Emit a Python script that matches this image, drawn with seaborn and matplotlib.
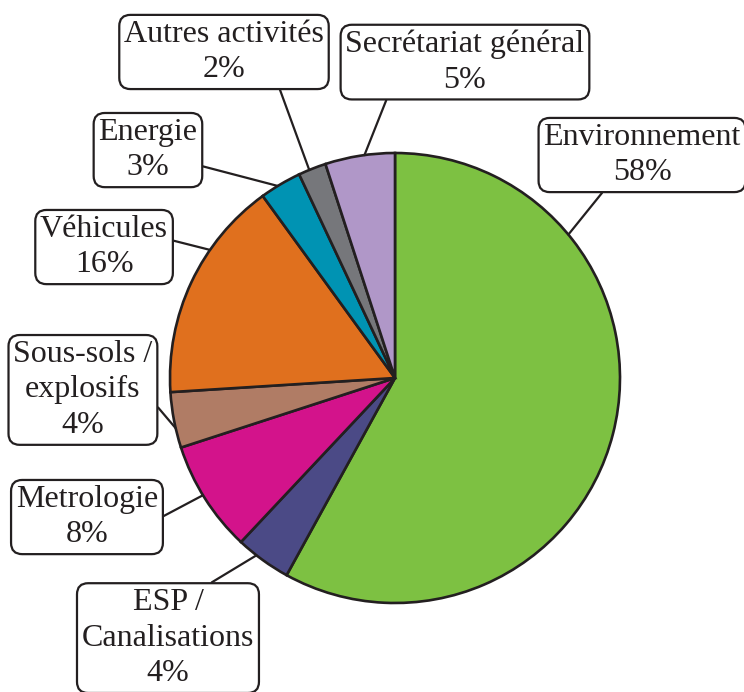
import matplotlib
matplotlib.use("Agg")
import matplotlib.pyplot as plt
import seaborn as sns
import numpy as np

labels = ['Environnement', 'ESP /\nCanalisations', 'Metrologie', 'Sous-sols /\nexplosifs',
          'Véhicules', 'Energie', 'Autres activités', 'Secrétariat général']
values = [58, 4, 8, 4, 16, 3, 2, 5]
colors = ['#7dc142', '#4b4a86', '#d3138b', '#b07c65', '#e0701e', '#0093b3', '#76777b', '#b097c8']

# layout: label box centres, where the leader line touches the pie (degrees),
# and where it leaves the box (fraction of the box)
box_pos = [(1.098, 0.991), (-1.009, -1.156), (-1.369, -0.618), (-1.387, -0.053),
           (-1.293, 0.582), (-1.098, 1.013), (-0.76, 1.449), (0.311, 1.404)]
anchor_deg = [39.6, 232, 211.4, 192.9, 145.3, 121.4, 112.4, 97.8]
rel_pos = [(0.32, 0), (0.7, 1), (1, 0.47), (1, 0.39), (1, 0.62), (1, 0.27), (0.77, 0), (0.18, 0)]

sns.set_theme(style="white")
plt.rcParams['font.family'] = ['Liberation Serif', 'DejaVu Serif']

fig = plt.figure(figsize=(7.44, 6.92), dpi=100)
ax = fig.add_axes([0, 0, 1, 1])

ax.pie(values, colors=colors, startangle=90, counterclock=False, radius=1,
       wedgeprops=dict(edgecolor='#231f20', linewidth=1.9))

for lab, v, (bx, by), ang, rp in zip(labels, values, box_pos, anchor_deg, rel_pos):
    t = np.deg2rad(ang)
    ax.annotate(f"{lab}\n{v}%", xy=(np.cos(t), np.sin(t)), xytext=(bx, by),
                ha='center', va='center', fontsize=23, color='#231f20', linespacing=1.3,
                bbox=dict(boxstyle='round,pad=0.15,rounding_size=0.35', fc='white',
                          ec='#231f20', lw=1.6),
                arrowprops=dict(arrowstyle='-', color='#231f20', lw=1.6,
                                shrinkA=0, shrinkB=0, relpos=rp))

ax.set_xlim(-395 / 225, (744 - 395) / 225)
ax.set_ylim(-(692 - 378) / 225, 378 / 225)
ax.set_aspect('equal')
ax.axis('off')

fig.savefig('out.png', dpi=100)
